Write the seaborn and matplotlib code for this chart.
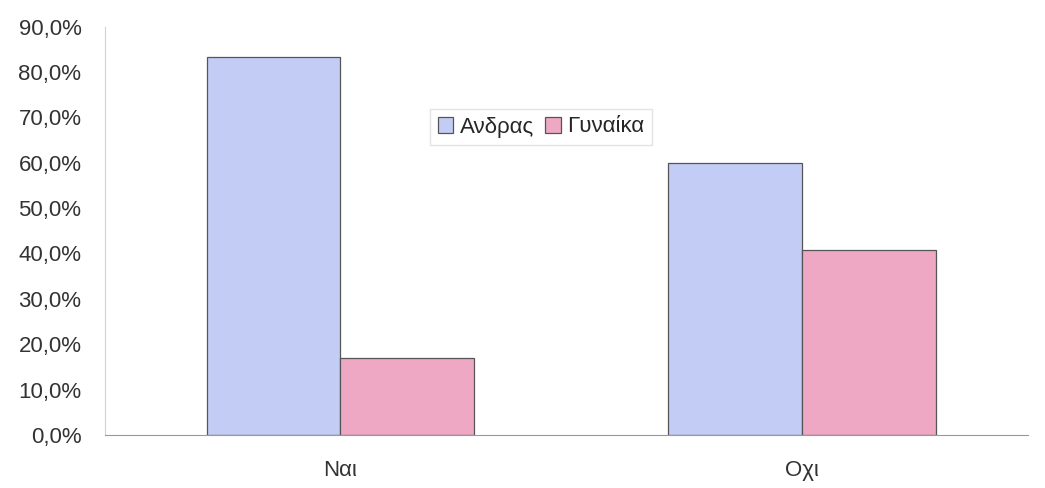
import pandas as pd
import matplotlib.pyplot as plt
import seaborn as sns
from matplotlib.ticker import FuncFormatter, MultipleLocator

answers = ["Ναι", "Οχι"]
genders = ["Ανδρας", "Γυναίκα"]
men_pct = [83.2, 59.9]
women_pct = [17.0, 40.8]

df = pd.DataFrame({
    "answer": answers * 2,
    "gender": [genders[0]] * 2 + [genders[1]] * 2,
    "pct": men_pct + women_pct,
})

sns.set_style("white")
plt.rcParams["font.family"] = ["Liberation Sans", "DejaVu Sans"]

fig = plt.figure(figsize=(10.45, 4.88), dpi=100)
ax = fig.add_axes([105 / 1045, 53 / 488, 923 / 1045, 408.5 / 488])

sns.barplot(data=df, x="answer", y="pct", hue="gender", hue_order=genders,
            palette=["#c3ccf5", "#eea8c4"], width=0.58, edgecolor="#555555",
            linewidth=0.9, saturation=1, ax=ax)

ax.set_xlim(-0.51, 1.49)
ax.set_ylim(0, 90)
ax.yaxis.set_major_locator(MultipleLocator(10))
ax.yaxis.set_major_formatter(FuncFormatter(lambda v, p: f"{v:.1f}%".replace(".", ",")))
ax.set_xlabel("")
ax.set_ylabel("")
ax.tick_params(axis="y", labelsize=16, labelcolor="#333333", length=3, color="#cccccc", pad=14)
ax.tick_params(axis="x", labelsize=16, labelcolor="#333333", length=0, pad=18)

sns.despine(ax=ax)
ax.spines["left"].set_color("#d0d0d0")
ax.spines["bottom"].set_color("#999999")

ax.legend(title=None, ncol=2, loc="center", bbox_to_anchor=(541 / 1045, 1 - 127 / 488),
          bbox_transform=fig.transFigure, fontsize=16, frameon=True, edgecolor="#dddddd",
          fancybox=False, handlelength=0.7, handleheight=0.7, handletextpad=0.3,
          columnspacing=0.5, borderpad=0.35)

fig.savefig("out.png", dpi=100)
